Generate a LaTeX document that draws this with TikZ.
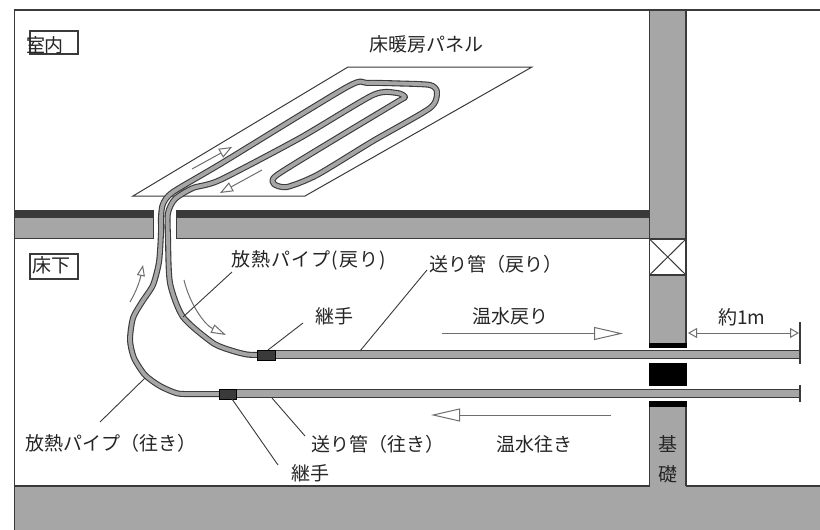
\documentclass[tikz,border=0pt]{standalone}
\usepackage{fontspec}
\setmainfont{Noto Sans CJK JP}
\usetikzlibrary{arrows.meta}
\definecolor{wallgray}{HTML}{A6A6A6}
\definecolor{inkdark}{HTML}{3A3A3A}
\definecolor{arrowgray}{HTML}{6E6E6E}
\tikzset{
  wall/.style={fill=wallgray,draw=inkdark,line width=1.2pt},
  band/.style={fill=inkdark,draw=none},
  solid black/.style={fill=black,draw=none},
  pipeout/.style={draw=inkdark,line width=6pt,line join=round,line cap=butt},
  pipein/.style={draw=wallgray,line width=3.8pt,line join=round,line cap=butt},
  straightpipe/.style={fill=wallgray,draw=inkdark,line width=1.1pt},
  jointbox/.style={fill=inkdark,draw=black,line width=.8pt},
  leader/.style={draw=inkdark,line width=.9pt},
  flow/.style={draw=arrowgray,line width=1pt,-{Triangle[open,fill=white,length=#1]}},
  flow/.default={15pt 0 0,width=9pt},
  label/.style={inner sep=0pt,font=\fontsize{19}{19}\selectfont,text=black!85},
  tag/.style={draw=inkdark,line width=1.1pt,fill=white,inner sep=0pt},
}
\begin{document}
\begin{tikzpicture}[x=1pt,y=-1pt]
\useasboundingbox (0,0) rectangle (820,530);
\fill[white] (0,0) rectangle (820,530);
% ground and frame
\fill[wallgray] (14.5,486) rectangle (820,530);
\draw[draw=inkdark,line width=1.3pt] (14.5,486) -- (649.5,486) (686,486) -- (820,486);
\draw[draw=inkdark,line width=1.4pt] (820,10) -- (14.5,10) -- (14.5,530);
% floor
\fill[band] (14.5,210) rectangle (153,218);
\fill[band] (176,210) rectangle (649.5,218);
\fill[wallgray] (14.5,218) rectangle (153,237.5);
\fill[wallgray] (176,218) rectangle (649.5,237.5);
\draw[inkdark,line width=1pt] (14.5,238) -- (153,238) -- (153,210);
\draw[inkdark,line width=1pt] (649.5,238) -- (176,238) -- (176,210);
% wall
\path[wall] (649.5,10) rectangle (686,239);
\path[wall] (649.5,275) rectangle (686,344);
\path[wall,fill=white] (649.5,239) rectangle (686,275);
\draw[inkdark,line width=1pt] (649.5,239) -- (686,275) (649.5,275) -- (686,239);
\fill[wallgray] (649.5,406) rectangle (686,490);
\draw[inkdark,line width=1.2pt] (649.5,406) -- (649.5,486) (686,406) -- (686,486);
\path[solid black] (649,343) rectangle (686.5,348);
\path[solid black] (649,363) rectangle (686.5,386);
\path[solid black] (649,401) rectangle (686.5,407);
% panel
\draw[draw=inkdark,line width=1pt,line join=miter] (348,67) -- (532,67) -- (305,196) -- (133,196) -- cycle;
% coordinates on the pipes
\coordinate (pipeA) at (183,317);
\coordinate (pipeB) at (145,378);
\coordinate (tubeA) at (360,351);
\coordinate (tubeB) at (272,398);
\coordinate (jointAtop) at (268,350);
\coordinate (jointBbot) at (232,399);
% heating pipe
\def\heatpipe{plot[smooth,tension=.42] coordinates {
 (222,394) (200,394) (178,393.5) (160,386) (145,375) (134,358) (130,340) (133,318) (142,302) (153,285)
 (159,262) (161,233) (161,217) (163,204) (173,192) (222,163) (347,87) (367,83) (400,83.5) (430,85)
 (437,92) (430,108) (373,141) (317,175) (287,187) (274,184) (277,175) (337,138) (397,102) (405,97) (397,93) (373,95)
 (300,138) (220,180) (193,188) (175,199) (168,213) (168,237) (170,283) (183,317) (213,343) (233,351) (247,354.5) (258,355)
}}
\draw[pipeout] \heatpipe;
\draw[pipein] \heatpipe;
% straight supply pipes
\path[straightpipe] (272,350.5) rectangle (800,358.5);
\path[straightpipe] (234,389.5) rectangle (800,397.5);
\node[jointbox,minimum width=18pt,minimum height=10pt,inner sep=0pt] (jointA) at (266,355) {};
\node[jointbox,minimum width=17pt,minimum height=10pt,inner sep=0pt] (jointB) at (227.5,394) {};
\draw[inkdark,line width=1.1pt] (800,322) -- (800,364) (800,385) -- (800,402);
% flow arrows
\coordinate (f1s) at (192,169); \coordinate (f1e) at (232,147);
\coordinate (f2s) at (262,170); \coordinate (f2e) at (220,193);
\draw[flow={13pt 0 0,width=10pt}] (f1s) -- (f1e);
\draw[flow={13pt 0 0,width=10pt}] (f2s) -- (f2e);
\coordinate (f3s) at (130,302); \coordinate (f3e) at (143,265);
\draw[flow={11pt 0 0,width=8pt}] (f3s) .. controls (137,290) and (140,280) .. (f3e);
\coordinate (f4s) at (184,280); \coordinate (f4e) at (226,335);
\draw[flow={15pt 0 0,width=9pt}] (f4s) .. controls (190,305) and (205,325) .. (f4e);
\coordinate (f5s) at (442,333.5); \coordinate (f5e) at (623,333.5);
\draw[flow={29pt 0 0,width=13pt}] (f5s) -- (f5e);
\coordinate (f6s) at (611,415); \coordinate (f6e) at (431,415);
\draw[flow={29pt 0 0,width=13pt}] (f6s) -- (f6e);
\coordinate (d1) at (688,333); \coordinate (d2) at (799,333);
\draw[draw=arrowgray,line width=1pt,{Triangle[open,fill=white,length=9pt,width=10pt]}-{Triangle[open,fill=white,length=9pt,width=10pt]}] (d1) -- (d2);
% tags
\node[tag,minimum width=48pt,minimum height=23pt] (tagroom) at (54,42.5) {};
\node[tag,minimum width=48pt,minimum height=25pt] (tagunder) at (54,266.5) {};
% labels
\node[label] (room) at (45,45) {室内};
\node[label] (under) at (51,265) {床下};
\node[label] (panel) at (426,44) {床暖房パネル};
\node[label,anchor=west] (retpipe) at (231,260) {\addfontfeature{LetterSpace=6}放熱パイプ(戻り)};
\node[label,anchor=west] (rettube) at (429,264) {送り管（戻り）};
\node[label] (retjoint) at (334,316) {継手};
\node[label] (retwater) at (510,316) {温水戻り};
\node[label] (onem) at (742,317) {約1m};
\node[label,anchor=west] (gopipe) at (25,443) {放熱パイプ（往き）};
\node[label,anchor=west] (gotube) at (311,444) {送り管（往き）};
\node[label] (gowater) at (534,444) {温水往き};
\node[label] (gojoint) at (310,473) {継手};
\node[label] (found1) at (668,444) {基};
\node[label] (found2) at (668,474) {礎};
% leaders
\coordinate (l1) at (232,272);
\coordinate (l2) at (303,323);
\coordinate (l3) at (427,270);
\coordinate (l4) at (100,422);
\coordinate (l5) at (278,465);
\coordinate (l6) at (305,436);
\draw[leader] (l1) -- (pipeA);
\draw[leader] (l2) -- (jointAtop);
\draw[leader] (l3) -- (tubeA);
\draw[leader] (l4) -- (pipeB);
\draw[leader] (l5) -- (jointBbot);
\draw[leader] (l6) -- (tubeB);
\end{tikzpicture}
\end{document}
